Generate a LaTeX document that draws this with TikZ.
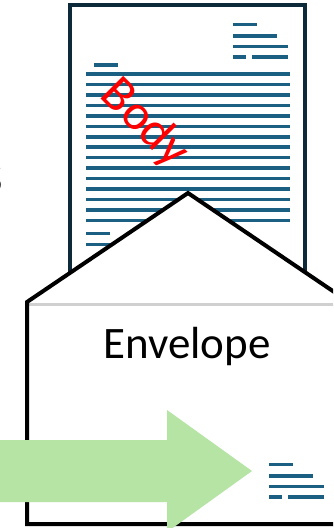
\documentclass[tikz,border=0pt]{standalone}
\usepackage{fontspec}
\setmainfont{Carlito}
\definecolor{docborder}{RGB}{13,42,58}
\definecolor{docline}{RGB}{27,96,130}
\definecolor{arrowgreen}{RGB}{181,228,165}
\definecolor{flapgrey}{RGB}{208,208,208}
\tikzset{
  txtline/.style={draw=docline, line width=3.6pt, line cap=butt},
  bigtext/.style={font=\fontsize{45}{54}\selectfont, inner sep=0pt},
}
\begin{document}
\begin{tikzpicture}[x=1pt,y=-1pt]
\useasboundingbox (0,0) rectangle (333,528);
\clip (0,0) rectangle (333,528);
% cut-off letter at left
\node[font=\fontsize{58}{66}\selectfont, inner sep=0pt, anchor=base east] (cut) at (3,193) {s};
% document page
\draw[docborder, line width=4pt, fill=white] (70,500) -- (70,5) -- (305,5) -- (305,500);
% top-right address block
\draw[txtline] (233,24.3) -- (257,24.3);
\draw[txtline] (233,35.7) -- (277,35.7);
\draw[txtline] (233,46.3) -- (288,46.3);
\draw[txtline] (233,57) -- (246,57);
\draw[txtline] (252,57) -- (288,57);
% salutation
\draw[txtline] (94,65) -- (118,65);
% body lines
\foreach \k in {0,...,14} {
  \draw[txtline] (86,{74+10.46*\k}) -- (290,{74+10.46*\k});
}
\draw[txtline] (86,233.5) -- (110,233.5);
\draw[txtline] (86,244.5) -- (130,244.5);
% Body label
\node[font=\fontsize{50}{60}\selectfont, inner sep=0pt, text=red, rotate=-45, anchor=base] (body) at (135,133) {Body};
% envelope
\fill[white] (27,524) -- (27,302) -- (188,193) -- (349,302) -- (349,524) -- cycle;
\draw[flapgrey, line width=3pt] (29,304) -- (347,304);
\draw[black, line width=4pt, line join=miter] (349,524) -- (27,524) -- (27,302) -- (188,193) -- (349,302);
\node[bigtext, anchor=base] (env) at (187,358) {Envelope};
% small text icon
\draw[txtline] (269,464.3) -- (293,464.3);
\draw[txtline] (269,475.7) -- (313,475.7);
\draw[txtline] (269,486.3) -- (324,486.3);
\draw[txtline] (269,497) -- (282,497);
\draw[txtline] (288,497) -- (324,497);
% green arrow
\fill[arrowgreen] (-5,440) -- (167,440) -- (167,410) -- (252,471) -- (167,532) -- (167,502) -- (-5,502) -- cycle;
\end{tikzpicture}
\end{document}
